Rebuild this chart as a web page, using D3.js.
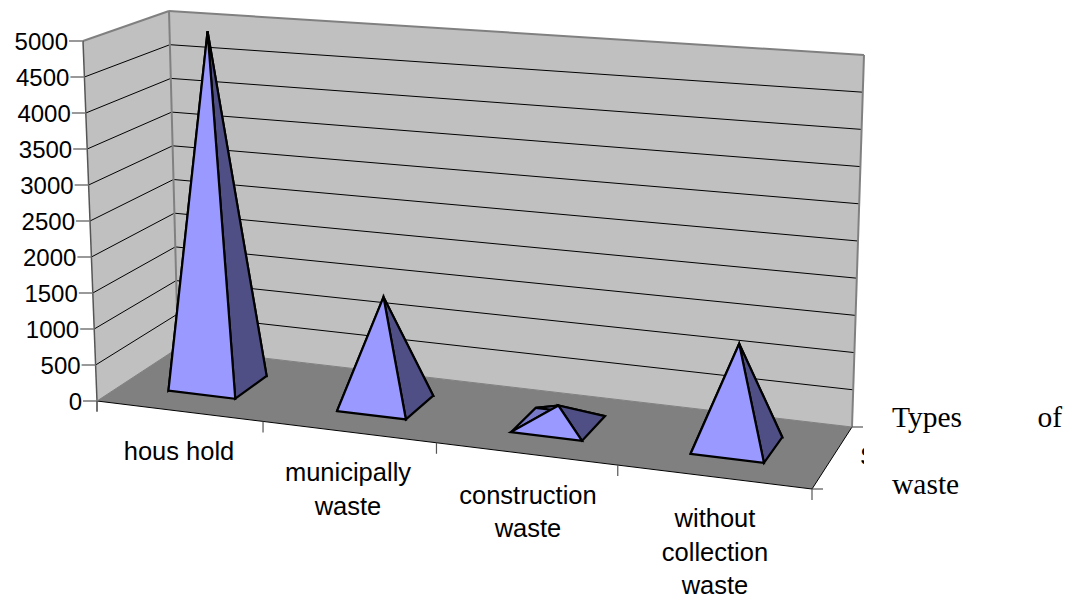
<!DOCTYPE html>
<html><head><meta charset="utf-8">
<script src="https://cdn.jsdelivr.net/npm/d3@7/dist/d3.min.js"></script>
<style>html,body{margin:0;padding:0;background:#fff}svg{display:block}</style>
</head><body><svg id="c" width="1075" height="598"></svg>
<script>
const categories = [["hous hold"],["municipally","waste"],["construction","waste"],["without","collection","waste"]];
const values = [4990, 1470, 250, 1340];
const valueTicks = [0,500,1000,1500,2000,2500,3000,3500,4000,4500,5000];
const seriesLabel = "S";
const noteWords = ["Types","of","waste"];

// Anchors of the drawn 3-D box: [front-left, front-right, back-right, back-left]
const floorQuad = [[97,401],[812,489],[852,427],[178,348]];
const topQuad   = [[83,41],[830,92],[864,55],[169,11]];

function homography(q){
  const [[x0,y0],[x1,y1],[x2,y2],[x3,y3]] = q;
  const dx1=x1-x2, dx2=x3-x2, sx=x0-x1+x2-x3, dy1=y1-y2, dy2=y3-y2, sy=y0-y1+y2-y3;
  const det=dx1*dy2-dx2*dy1;
  const g=(sx*dy2-dx2*sy)/det, h=(dx1*sy-sx*dy1)/det;
  const a=x1-x0+g*x1, b=x3-x0+h*x3, d=y1-y0+g*y1, e=y3-y0+h*y3;
  return (u,v)=>{const w=g*u+h*v+1;return [(a*u+b*v+x0)/w,(d*u+e*v+y0)/w];};
}
const floorH = homography(floorQuad), topH = homography(topQuad);
const yScale = d3.scaleLinear().domain([0,5000]).range([0,1]);
const uBand = d3.scaleBand().domain(d3.range(categories.length)).range([-0.004,0.994]).paddingInner(0.6).paddingOuter(0.3);
const uStep = d3.scaleLinear().domain([0,1,2,3,4]).range([0,0.244,0.491,0.741,1]);
const vScale = d3.scaleLinear().domain([0,1]).range([0.29,0.71]);
function P(u,v,val){
  const f=floorH(u,v), t=topH(u,v), k=yScale(val);
  return [f[0]+(t[0]-f[0])*k, f[1]+(t[1]-f[1])*k];
}
const svg=d3.select("#c");
const line=d3.line();
const poly=(pts,fill,sw=0,stroke="none")=>svg.append("path").attr("d",line(pts)+"Z").attr("fill",fill).attr("stroke",stroke).attr("stroke-width",sw).attr("stroke-linejoin","miter");
const seg=(a,b,stroke,sw)=>svg.append("line").attr("x1",a[0]).attr("y1",a[1]).attr("x2",b[0]).attr("y2",b[1]).attr("stroke",stroke).attr("stroke-width",sw);

// walls and floor
poly([P(0,0,0),P(0,1,0),P(0,1,5000),P(0,0,5000)],"#c0c0c0");
poly([P(0,1,0),P(1,1,0),P(1,1,5000),P(0,1,5000)],"#c0c0c0");
poly([P(0,0,0),P(1,0,0),P(1,1,0),P(0,1,0)],"#808080");
// gridlines
valueTicks.slice(1,-1).forEach(t=>{
  seg(P(0,0,t),P(0,1,t),"#000",1);
  seg(P(0,1,t),P(1,1,t),"#000",1);
});
// wall borders
seg(P(0,0,5000),P(0,1,5000),"#808080",2);
seg(P(0,1,5000),P(1,1,5000),"#808080",2);
seg(P(0,1,0),P(0,1,5000),"#808080",2);
seg(P(1,1,0),P(1,1,5000),"#808080",2);
// axis lines
seg(P(0,0,0),P(0,0,5000),"#555",1.5);
seg(P(0,0,0),P(1,0,0),"#000",1);
seg(P(1,0,0),P(1,1,0),"#000",1);
seg(P(0,0,0),P(0,1,0),"#808080",1);
seg(P(0,1,0),P(1,1,0),"#808080",1);
// value ticks and labels
valueTicks.forEach(t=>{
  const p=P(0,0,t);
  seg([p[0]-14,p[1]],p,"#777",1.5);
  svg.append("text").attr("x",p[0]-15).attr("y",p[1]+8.5).attr("text-anchor","end")
    .attr("font-family","Liberation Sans").attr("font-size",24).attr("fill","#000").text(t);
});
// category ticks
d3.range(categories.length+1).forEach(i=>{
  const p=P(uStep(i),0,0);
  seg(p,[p[0],p[1]+11],"#555",1.2);
});
seg(P(1,0,0),[P(1,0,0)[0]+11,P(1,0,0)[1]],"#555",1.2);
seg(P(1,1,0),[P(1,1,0)[0]+11,P(1,1,0)[1]],"#555",1.2);
seg(P(0,0,0),[P(0,0,0)[0],P(0,0,0)[1]+10],"#555",1.2);

// pyramids
values.forEach((val,i)=>{
  const u0=uBand(i),u1=u0+uBand.bandwidth(),v0=vScale(0),v1=vScale(1);
  const fl=P(u0,v0,0),fr=P(u1,v0,0),br=P(u1,v1,0),bl=P(u0,v1,0);
  const apex=P((u0+u1)/2,(v0+v1)/2,val);
  poly([fl,bl,apex],"#7878c8",2.2,"#000");
  poly([bl,br,apex],"#7878c8",2.2,"#000");
  poly([fr,br,apex],"#4f4f85",2.2,"#000");
  poly([fl,fr,apex],"#9999ff",2.2,"#000");
});

// category labels
const labelY=[[460],[481,515],[504,537],[527,561,594]];
const labelX=[179,348,528,715];
categories.forEach((lines,i)=>{
  lines.forEach((s,j)=>svg.append("text").attr("x",labelX[i]).attr("y",labelY[i][j])
    .attr("text-anchor","middle").attr("font-family","Liberation Sans").attr("font-size",25.5).attr("fill","#000").text(s));
});
// clipped series label
svg.append("clipPath").attr("id","cl").append("rect").attr("x",840).attr("y",430).attr("width",24).attr("height",50);
svg.append("text").attr("x",860).attr("y",465).attr("clip-path","url(#cl)")
  .attr("font-family","Liberation Sans").attr("font-size",25.5).text(seriesLabel);
// note
const serif=(x,y,s,a="start")=>svg.append("text").attr("x",x).attr("y",y).attr("text-anchor",a)
  .attr("font-family","Liberation Serif").attr("font-size",29.5).attr("fill","#000").text(s);
serif(892,427,noteWords[0]);
serif(1062,427,noteWords[1],"end");
serif(892,494,noteWords[2]);
</script></body></html>
